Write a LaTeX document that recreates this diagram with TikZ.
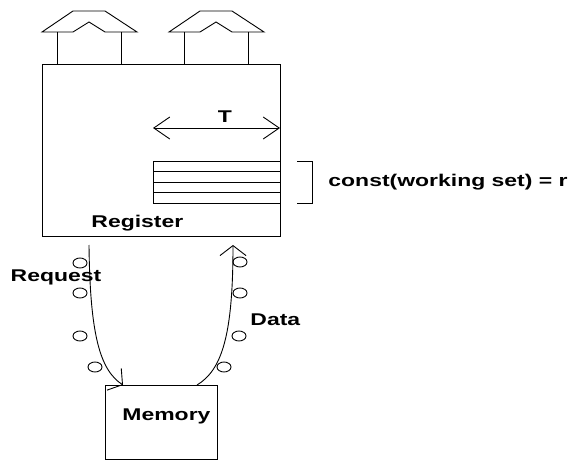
\documentclass[tikz,border=0pt]{standalone}
\usepackage{fontspec}
\usepackage{graphicx}
\setmainfont{Liberation Sans}
\usetikzlibrary{arrows.meta,shapes.geometric}
\newcommand\widetxt[1]{\scalebox{1.35}[1]{#1}}
\begin{document}
\begin{tikzpicture}[x=1pt,y=-1pt,line width=0.9pt,
  lbl/.style={font=\bfseries\fontsize{17}{20}\selectfont, inner sep=0pt},
  boxnode/.style={draw, rectangle, inner sep=0pt, anchor=north west},
  dot/.style={draw, ellipse, minimum width=14pt, minimum height=10pt, inner sep=0pt},
  tarrow/.style={{Straight Barb[length=16pt,width=22pt]}-{Straight Barb[length=16pt,width=22pt]}},
  carrow/.style={-{Straight Barb[length=10pt,width=26pt]}}]
\useasboundingbox (0,0) rectangle (575,460);
% register box
\node[boxnode, minimum width=238pt, minimum height=172pt] (reg) at (42,64) {};
% memory box
\node[boxnode, minimum width=112pt, minimum height=74pt] (mem) at (105,385) {};
% roofs
\foreach \dx in {0,127}{
  \begin{scope}[xshift=\dx]
    \draw (42,32) -- (73,11) -- (105,11) -- (137,32) -- (105,32) -- (89,22) -- (73,32) -- cycle;
    \draw (57,32) -- (57,64);
    \draw (121,32) -- (121,64);
  \end{scope}
}
% T arrow
\coordinate (tl) at (153,128);
\coordinate (tr) at (280,128);
\draw[tarrow] (tl) -- (tr);
\node[lbl] (tlab) at (225,117) {\widetxt{T}};
% working set stack
\node[boxnode, minimum width=127pt, minimum height=42pt] (stack) at (153,161) {};
\draw (153,171) -- (280,171);
\draw (153,182) -- (280,182);
\draw (153,192) -- (280,192);
% bracket
\draw (297,161) -- (312,161) -- (312,203) -- (297,203);
\node[lbl, anchor=west] (ws) at (328,182) {\widetxt{const(working set) = r}};
\node[lbl, anchor=west] (reglab) at (91,223) {\widetxt{Register}};
\node[lbl, anchor=west] (memlab) at (122,416) {\widetxt{Memory}};
% request / data curves
\coordinate (rq0) at (89,245);
\coordinate (rq1) at (123,385);
\coordinate (da0) at (197,385);
\coordinate (da1) at (233,245);
\draw[carrow] (rq0) .. controls (90,335) and (100,370) .. (rq1);
\draw[carrow] (da0) .. controls (222,370) and (233,335) .. (da1);
\node[lbl] (rqlab) at (56,277) {\widetxt{Request}};
\node[lbl, anchor=west] (dalab) at (250,320) {\widetxt{Data}};
% packets
\foreach \p/\q [count=\i] in {80/263,80/293,80/336,95/367}{
  \node[dot] (l\i) at (\p,\q) {};
}
\foreach \p/\q [count=\i] in {240/262,240/293,239/336,224/367}{
  \node[dot] (r\i) at (\p,\q) {};
}
\end{tikzpicture}
\end{document}
